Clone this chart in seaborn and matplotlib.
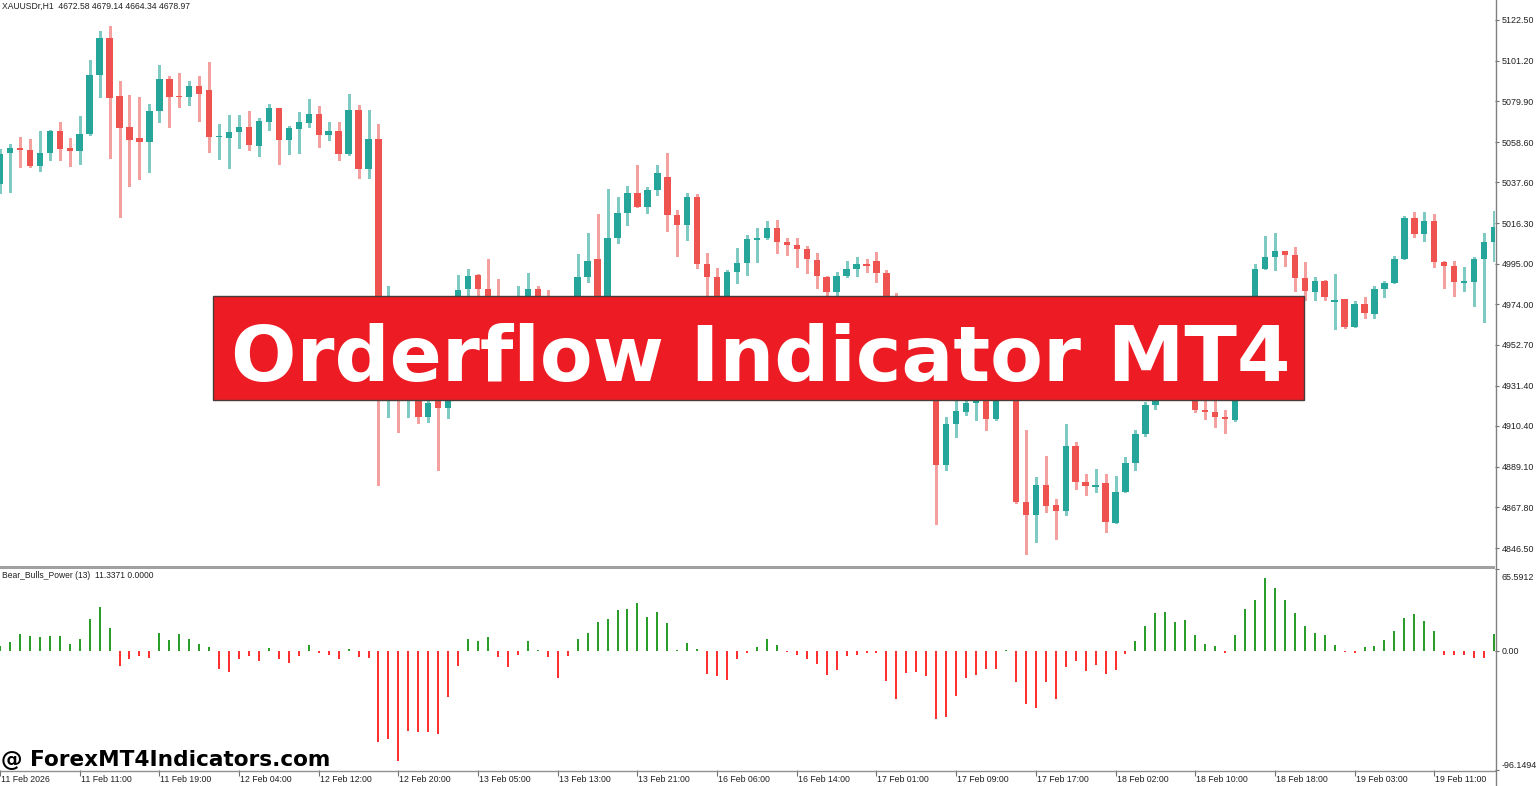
import numpy as np
import pandas as pd
import matplotlib
matplotlib.use("Agg")
import matplotlib.pyplot as plt
import seaborn as sns
from matplotlib.patches import Rectangle
from matplotlib.lines import Line2D
from matplotlib.transforms import ScaledTranslation

# ---------------- data ----------------
symbol_header = "XAUUSDr,H1  4672.58 4679.14 4664.34 4678.97"
indicator_header = "Bear_Bulls_Power (13)  11.3371 0.0000"
banner_title = "Orderflow Indicator MT4"
watermark = "@ ForexMT4Indicators.com"

opens = [5036.9, 5052.7, 5055.6, 5054.4, 5046.1, 5053.1, 5064.5, 5055.4, 5054.2, 5063.0,
         5093.8, 5112.8, 5082.5, 5066.4, 5060.7, 5058.8, 5075.1, 5091.7, 5082.5, 5082.0,
         5087.7, 5085.8, 5061.1, 5060.7, 5063.7, 5066.4, 5056.5, 5069.2, 5076.3, 5059.9,
         5065.4, 5068.7, 5073.4, 5062.6, 5064.5, 5052.5, 5075.5, 5044.5, 5060.5, 4934.0,
         4945.0, 4925.0, 4932.0, 4915.1, 4930.0, 4919.8, 4940.0, 4981.7, 4989.0, 4982.0,
         4972.0, 4968.0, 4973.0, 4975.0, 4982.0, 4976.0, 4972.0, 4968.0, 4972.0, 4987.9,
         4997.4, 4975.0, 5008.7, 5021.4, 5031.9, 5024.5, 5033.6, 5040.5, 5020.5, 5015.3,
         5030.1, 4995.1, 4988.3, 4976.0, 4990.7, 4995.3, 5007.6, 5008.7, 5013.9, 5006.5,
         5004.7, 5002.9, 4997.0, 4988.3, 4980.4, 4988.6, 4992.3, 4994.9, 4996.6, 4990.4,
         4975.0, 4945.0, 4955.0, 4950.0, 4945.0, 4889.8, 4911.3, 4917.7, 4922.1, 4924.2,
         4913.9, 4935.0, 4938.0, 4870.3, 4863.7, 4879.4, 4868.9, 4865.8, 4899.8, 4881.1,
         4878.2, 4880.3, 4859.4, 4875.6, 4890.7, 4906.0, 4921.2, 4935.0, 4944.0, 4938.0,
         4932.0, 4918.6, 4917.4, 4915.1, 4913.4, 4928.0, 4960.0, 4992.3, 4998.7, 5001.7,
         4999.6, 4987.7, 4980.4, 4986.0, 4975.2, 4976.5, 4961.8, 4973.8, 4968.6, 4981.8,
         4984.8, 4997.4, 5018.8, 5010.4, 5017.6, 4996.1, 4993.9, 4985.1, 4985.3, 4997.4,
         5006.2]
highs = [5055.0, 5057.8, 5061.3, 5060.1, 5064.5, 5064.9, 5068.9, 5060.7, 5072.5, 5101.5,
         5116.7, 5119.2, 5090.5, 5083.5, 5082.2, 5078.6, 5099.1, 5093.0, 5094.5, 5090.5,
         5093.2, 5100.6, 5068.3, 5072.9, 5072.9, 5074.9, 5071.1, 5078.7, 5076.7, 5066.8,
         5074.4, 5081.2, 5077.4, 5068.9, 5068.9, 5083.9, 5077.8, 5075.3, 5068.3, 4983.4,
         4960.0, 4940.0, 4938.0, 4926.0, 4935.0, 4945.0, 4989.2, 4992.3, 4989.7, 4997.7,
         4986.9, 4978.0, 4983.4, 4990.0, 4983.4, 4981.3, 4978.0, 4976.0, 5000.1, 5011.3,
         5021.0, 5034.0, 5029.8, 5035.7, 5046.7, 5035.3, 5046.7, 5052.8, 5023.1, 5031.9,
         5031.5, 5000.8, 4992.7, 4992.0, 5003.1, 5010.1, 5013.6, 5017.6, 5017.9, 5008.7,
         5008.7, 5004.3, 5000.5, 4988.6, 4990.9, 4996.6, 4998.4, 4997.4, 5001.3, 4991.8,
         4980.0, 4960.0, 4965.0, 4958.0, 4950.0, 4915.1, 4924.0, 4927.0, 4930.0, 4930.0,
         4940.0, 4945.0, 4942.0, 4908.1, 4883.7, 4894.6, 4872.1, 4911.3, 4901.7, 4885.1,
         4887.8, 4885.1, 4884.1, 4894.2, 4908.1, 4922.6, 4940.0, 4948.0, 4950.0, 4945.0,
         4938.0, 4923.8, 4923.8, 4918.6, 4935.0, 4965.0, 4994.8, 5009.5, 5011.3, 5001.7,
         5003.6, 4995.8, 4988.3, 4986.5, 4989.5, 4976.5, 4975.7, 4977.8, 4983.4, 4986.0,
         4999.1, 5020.2, 5021.9, 5022.2, 5021.0, 4996.6, 4996.6, 4993.2, 4998.7, 5010.9,
         5022.6]
lows = [5032.2, 5032.8, 5045.5, 5045.5, 5043.6, 5049.3, 5049.1, 5045.9, 5047.4, 5062.6,
        5082.4, 5050.2, 5019.5, 5035.6, 5039.2, 5043.0, 5068.9, 5066.6, 5077.0, 5078.2,
        5069.8, 5053.5, 5049.9, 5045.3, 5055.4, 5054.6, 5051.2, 5064.9, 5047.4, 5052.3,
        5053.1, 5066.4, 5056.3, 5059.7, 5049.3, 5052.0, 5039.8, 5039.8, 4879.4, 4915.0,
        4907.3, 4915.0, 4912.0, 4912.5, 4887.2, 4914.6, 4935.0, 4978.2, 4978.2, 4966.0,
        4960.0, 4964.0, 4968.0, 4970.0, 4972.0, 4960.0, 4955.0, 4962.0, 4968.0, 4985.5,
        4970.0, 4972.0, 5006.0, 5015.5, 5024.5, 5021.7, 5031.0, 5012.2, 4999.1, 5007.4,
        4992.7, 4977.8, 4970.0, 4972.0, 4985.1, 4989.4, 4996.1, 5008.0, 5000.8, 4999.5,
        4993.5, 4990.4, 4982.2, 4977.8, 4977.8, 4987.9, 4988.6, 4990.9, 4985.7, 4968.0,
        4923.8, 4935.0, 4940.0, 4933.0, 4859.0, 4887.2, 4904.3, 4916.0, 4913.4, 4908.1,
        4913.4, 4926.0, 4870.0, 4843.3, 4849.8, 4865.4, 4851.0, 4863.7, 4877.3, 4874.2,
        4875.9, 4855.0, 4859.4, 4875.6, 4887.2, 4905.0, 4919.0, 4930.0, 4930.0, 4930.0,
        4917.4, 4913.7, 4909.9, 4906.7, 4913.0, 4925.0, 4955.0, 4992.3, 4991.8, 4993.9,
        4980.9, 4976.1, 4976.1, 4976.1, 4960.8, 4961.3, 4961.8, 4966.5, 4966.8, 4977.5,
        4984.8, 4997.4, 5009.2, 5007.1, 4993.5, 4982.2, 4978.3, 4980.9, 4973.1, 4964.7,
        4996.5]
closes = [5052.5, 5055.6, 5054.4, 5046.1, 5052.9, 5064.5, 5055.0, 5054.2, 5063.0, 5093.9,
          5112.8, 5081.6, 5066.0, 5059.9, 5058.8, 5074.8, 5091.7, 5082.2, 5082.0, 5087.7,
          5083.9, 5061.1, 5061.5, 5064.1, 5066.4, 5056.9, 5069.6, 5076.3, 5059.9, 5065.8,
          5068.9, 5073.4, 5062.6, 5064.5, 5052.5, 5075.5, 5044.5, 5060.5, 4934.0, 4945.0,
          4925.0, 4930.0, 4915.1, 4922.4, 4919.8, 4940.0, 4981.3, 4988.6, 4981.7, 4972.0,
          4968.0, 4973.0, 4978.0, 4982.0, 4976.0, 4972.0, 4968.0, 4972.0, 4988.3, 4996.3,
          4975.0, 5008.7, 5021.7, 5031.9, 5024.5, 5033.6, 5042.3, 5020.5, 5015.3, 5030.1,
          4995.1, 4987.9, 4976.0, 4990.7, 4995.3, 5007.8, 5008.3, 5013.9, 5006.5, 5004.7,
          5002.9, 4997.4, 4988.6, 4980.4, 4988.6, 4992.3, 4994.9, 4994.0, 4990.4, 4975.0,
          4945.0, 4955.0, 4950.0, 4945.0, 4889.8, 4911.3, 4918.1, 4922.1, 4924.2, 4913.9,
          4935.0, 4938.0, 4870.3, 4863.7, 4879.4, 4868.6, 4865.8, 4899.8, 4881.1, 4879.0,
          4879.4, 4859.9, 4875.6, 4890.7, 4906.0, 4921.2, 4935.0, 4944.0, 4938.0, 4935.0,
          4918.6, 4917.7, 4915.1, 4913.7, 4928.0, 4960.0, 4992.3, 4998.7, 5001.7, 4999.6,
          4987.7, 4980.8, 4986.0, 4977.8, 4976.1, 4961.8, 4973.8, 4969.1, 4981.8, 4984.8,
          4997.4, 5018.8, 5010.4, 5017.6, 4995.8, 4993.9, 4985.3, 4985.5, 4997.4, 5006.2,
          5014.4]
power = [4.0, 7.2, 12.9, 11.8, 10.7, 11.3, 11.8, 5.1, 9.4, 25.2,
         34.9, 18.0, -12.3, -7.0, -4.8, -6.4, 14.2, 8.3, 12.9, 9.1,
         5.1, 2.7, -14.5, -16.9, -7.0, -4.6, -8.6, 1.9, -7.0, -9.7,
         -4.8, 4.8, -1.9, -4.0, -7.0, 1.3, -5.6, -5.9, -73.8, -71.6,
         -89.3, -64.9, -65.4, -65.4, -67.1, -37.5, -12.6, 9.4, 7.5, 10.7,
         -5.4, -12.9, -4.0, 8.0, 0.8, -5.6, -22.3, -4.8, 8.9, 14.2,
         23.1, 25.7, 33.0, 33.8, 38.6, 26.6, 30.6, 22.5, 0.8, 6.2,
         1.3, -19.3, -20.4, -23.9, -7.0, -2.4, 2.7, 8.9, 4.8, -1.3,
         -4.0, -7.0, -11.0, -20.1, -15.3, -4.6, -3.5, -2.4, -1.9, -24.9,
         -38.9, -18.0, -16.9, -20.4, -55.5, -53.9, -36.5, -22.0, -19.8, -14.8,
         -15.0, 0.8, -25.5, -42.9, -46.4, -25.5, -39.4, -13.4, -8.6, -16.1,
         -11.5, -18.5, -15.6, -3.2, 8.0, 19.8, 30.3, 30.8, 22.8, 24.9,
         12.1, 5.1, 3.8, -1.9, 12.3, 33.3, 41.0, 58.2, 50.7, 40.5,
         30.3, 19.8, 14.2, 12.3, 4.8, -1.1, -1.6, 3.0, 4.0, 8.3,
         15.3, 26.0, 29.2, 23.9, 15.3, -3.5, -4.0, -4.0, -5.9, -6.4,
         13.4]

price_ticks = [5122.50, 5101.20, 5079.90, 5058.60, 5037.60, 5016.30, 4995.00,
               4974.00, 4952.70, 4931.40, 4910.40, 4889.10, 4867.80, 4846.50]
power_ticks = [65.5912, 0.0, -96.1494]
power_tick_labels = ["65.5912", "0.00", "-96.1494"]
date_tick_idx = [0, 8, 16, 24, 32, 40, 48, 56, 64, 72, 80, 88, 96, 104, 112, 120, 128, 136, 144]
date_tick_labels = ["11 Feb 2026", "11 Feb 11:00", "11 Feb 19:00", "12 Feb 04:00", "12 Feb 12:00",
                    "12 Feb 20:00", "13 Feb 05:00", "13 Feb 13:00", "13 Feb 21:00", "16 Feb 06:00",
                    "16 Feb 14:00", "17 Feb 01:00", "17 Feb 09:00", "17 Feb 17:00", "18 Feb 02:00",
                    "18 Feb 10:00", "18 Feb 18:00", "19 Feb 03:00", "19 Feb 11:00"]

# ---------------- styling ----------------
sns.set_theme(style="white")
plt.rcParams['font.family'] = ['Liberation Sans', 'DejaVu Sans']

W, H = 1536, 786
DPI = 100
fig = plt.figure(figsize=(W / DPI, H / DPI), dpi=DPI, facecolor="white")

def fx(px):
    return px / W

def fy(py):
    return 1 - py / H

PLOT_R = 1495
ax = fig.add_axes([0, fy(566), fx(PLOT_R), 566 / H])
ax2 = fig.add_axes([0, fy(770), fx(PLOT_R), 201 / H])

UP, DN = "#26a69a", "#ef5350"
UP_W, DN_W = "#7fcbc3", "#f3a09f"

df = pd.DataFrame({"o": opens, "h": highs, "l": lows, "c": closes, "p": power})
df["idx"] = np.arange(len(df))
bull = df["c"] >= df["o"]

# wicks
ax.vlines(df["idx"], df["l"], df["h"], colors=np.where(bull, UP_W, DN_W), linewidth=1.0,
          antialiased=False, zorder=2)
# bodies
body_bottom = np.minimum(df["o"], df["c"])
body_h = np.maximum(np.abs(df["c"] - df["o"]), 0.9)
ax.bar(df["idx"], body_h, bottom=body_bottom, width=0.64,
       color=np.where(bull, UP, DN), linewidth=0, antialiased=False, zorder=3)

ax.set_xlim(0.0, 150.1)
ax.set_ylim(4837.1, 5132.9)

# indicator panel via seaborn
df["sign"] = np.where(df["p"] >= 0, "bull", "bear")
sns.barplot(data=df, x="idx", y="p", hue="sign", native_scale=True, dodge=False,
            palette={"bull": "#2a9d2a", "bear": "#ff3131"}, width=0.2,
            saturation=1, errorbar=None, legend=False, linewidth=0, ax=ax2)
for patch in ax2.patches:
    patch.set_antialiased(False)
ax2.set_xlim(0.0, 150.1)
ax2.set_ylim(-96.1494, 65.5912)
ax2.set_xlabel("")
ax2.set_ylabel("")

for a in (ax, ax2):
    for s in a.spines.values():
        s.set_visible(False)
    a.set_facecolor("white")
    a.grid(False)

# price axis (right)
ax.yaxis.tick_right()
ax.set_yticks(price_ticks)
ax.set_yticklabels([f"{v:.2f}" for v in price_ticks])
ax.tick_params(axis="y", which="both", right=True, left=False, length=3, width=0.8,
               color="#707070", labelsize=6.4, labelcolor="#202020", pad=1.5)
ax.tick_params(axis="x", bottom=False, labelbottom=False)

ax2.yaxis.tick_right()
ax2.set_yticks(power_ticks)
ax2.set_yticklabels(power_tick_labels)
ax2.tick_params(axis="y", which="both", right=True, left=False, length=3, width=0.8,
                color="#707070", labelsize=6.4, labelcolor="#202020", pad=1.5)
ylbls = ax2.get_yticklabels()
ylbls[0].set_transform(ylbls[0].get_transform() + ScaledTranslation(0, -7 / DPI, fig.dpi_scale_trans))
ylbls[2].set_transform(ylbls[2].get_transform() + ScaledTranslation(0, 5 / DPI, fig.dpi_scale_trans))

# time axis
ax2.set_xticks(date_tick_idx)
ax2.set_xticklabels(date_tick_labels)
ax2.tick_params(axis="x", bottom=True, length=4, width=0.8, color="#707070",
                labelsize=6.3, labelcolor="#202020", pad=0.5)
for lbl in ax2.get_xticklabels():
    lbl.set_ha("left")
    lbl.set_transform(lbl.get_transform() + ScaledTranslation(1 / DPI, 1 / DPI, fig.dpi_scale_trans))

# frame lines
fig.add_artist(Rectangle((0, fy(569)), fx(PLOT_R), 3 / H, transform=fig.transFigure,
                         facecolor="#a0a0a0", edgecolor="none", zorder=5))
fig.add_artist(Line2D([fx(0), fx(PLOT_R)], [fy(770.5), fy(770.5)], transform=fig.transFigure,
                      color="#909090", linewidth=1.0, zorder=5))
fig.add_artist(Line2D([fx(PLOT_R + 0.5), fx(PLOT_R + 0.5)], [0, 1], transform=fig.transFigure,
                      color="#808080", linewidth=1.0, zorder=5))

renderer = fig.canvas.get_renderer()

def fit_width(t, target_px):
    w = t.get_window_extent(renderer).width
    t.set_fontsize(t.get_fontsize() * target_px / w)

# header texts
t1 = fig.text(fx(2), fy(2), symbol_header, ha="left", va="top", fontsize=6.5, color="#202020")
fit_width(t1, 190)
t2 = fig.text(fx(2), fy(571), indicator_header, ha="left", va="top", fontsize=6.5, color="#202020")
fit_width(t2, 151)

# banner
fig.add_artist(Rectangle((fx(213), fy(400)), fx(1304) - fx(213), 104 / H, transform=fig.transFigure,
                         facecolor="#ed1c24", edgecolor="#4a3a3a", linewidth=1.0, zorder=20))
tb = fig.text(fx(231), fy(381), banner_title, ha="left", va="baseline", color="white",
              fontweight="bold", fontsize=55, family="DejaVu Sans", zorder=21)
fit_width(tb, 1058)

# watermark
tw = fig.text(fx(1), fy(766), watermark, ha="left", va="baseline", color="black",
              fontweight="bold", fontsize=15, family="DejaVu Sans", zorder=21)
fit_width(tw, 330)

fig.savefig("out.png", dpi=DPI, facecolor="white")
